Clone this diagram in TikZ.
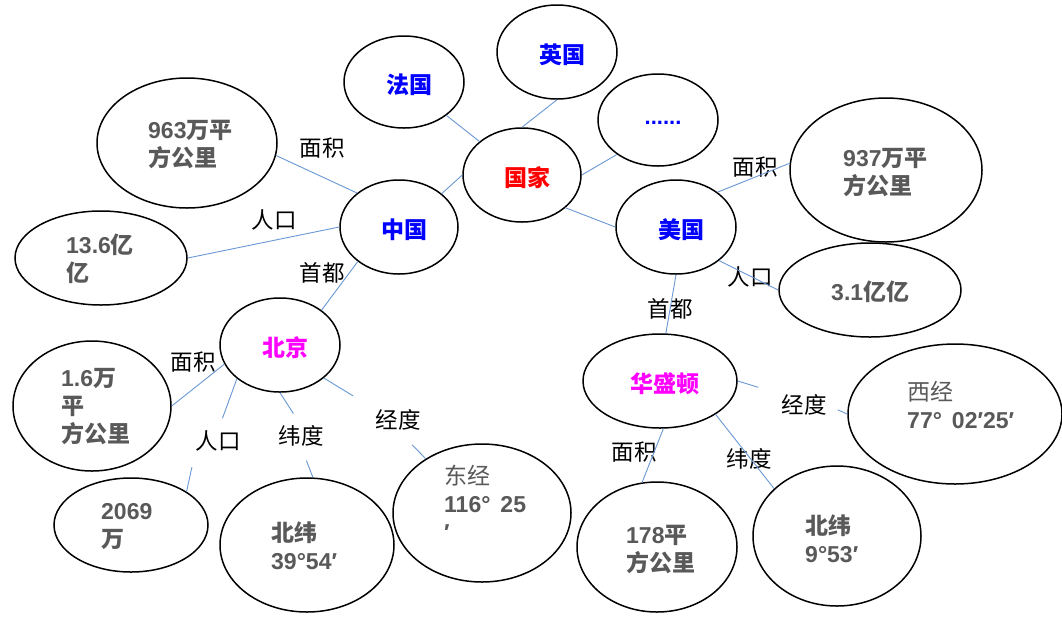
\documentclass[tikz,border=0pt]{standalone}
\usepackage{fontspec}
\usetikzlibrary{shapes.geometric}
\newfontfamily\cjk{Noto Sans CJK SC}
\newfontfamily\lat{Liberation Sans}
\newcommand\dg[1]{{\lat\bfseries #1}}
\definecolor{valgray}{HTML}{595959}
\definecolor{lineblue}{HTML}{6A98D4}
\definecolor{nblue}{HTML}{0000FF}
\definecolor{nred}{HTML}{FF0000}
\definecolor{nmag}{HTML}{FF00FF}
\begin{document}
\begin{tikzpicture}[x=1pt,y=-1pt,
  ell/.style={ellipse, draw=black, line width=1.5pt, inner sep=0pt},
  conn/.style={draw=lineblue, line width=0.9pt},
  lab/.style={font=\fontsize{22.5}{26}\selectfont\cjk, inner sep=0pt, text=black},
  cname/.style={font=\fontsize{23}{26}\selectfont\cjk\bfseries, inner sep=0pt, xshift=5pt, yshift=-3pt},
  val/.style={font=\fontsize{23}{28}\selectfont\cjk\bfseries, text=valgray, align=left, anchor=west, inner sep=0pt},
]
\useasboundingbox (0,0) rectangle (1062,641);
\fill[white] (0,0) rectangle (1062,641);

% main nodes
\node[ell, minimum width=118pt, minimum height=94pt, label={[cname, text=nred]center:国家}] (gj) at (522,175) {};
\node[ell, minimum width=120pt, minimum height=92pt, label={[cname, text=nblue]center:法国}] (fg) at (404,82) {};
\node[ell, minimum width=120pt, minimum height=94pt, label={[cname, text=nblue]center:英国}] (yg) at (557,52) {};
\node[ell, minimum width=120pt, minimum height=92pt, label={[cname, font=\fontsize{22}{26}\selectfont\lat\bfseries, text=nblue, yshift=0pt]center:......}] (dd) at (658,120) {};
\node[ell, minimum width=120pt, minimum height=94pt, label={[cname, text=nblue]center:美国}] (mg) at (676,227) {};
\node[ell, minimum width=118pt, minimum height=94pt, label={[cname, text=nblue]center:中国}] (zg) at (399,227) {};
\node[ell, minimum width=120pt, minimum height=94pt, label={[cname, text=nmag]center:北京}] (bj) at (280,345) {};
\node[ell, minimum width=154pt, minimum height=94pt, label={[cname, text=nmag]center:华盛顿}] (hsd) at (660,381) {};

% value ellipses
\node[ell, minimum width=180pt, minimum height=130pt] (v963) at (187,143) {};
\node[ell, minimum width=172pt, minimum height=94pt] (v136) at (101,258) {};
\node[ell, minimum width=158pt, minimum height=130pt] (v16) at (92,406) {};
\node[ell, minimum width=154pt, minimum height=94pt] (v2069) at (131,525) {};
\node[ell, minimum width=174pt, minimum height=134pt] (vbw) at (307,545) {};
\node[ell, minimum width=178pt, minimum height=138pt] (vdj) at (482,513) {};
\node[ell, minimum width=160pt, minimum height=130pt] (v178) at (657,547) {};
\node[ell, minimum width=168pt, minimum height=140pt] (vbw2) at (837,536) {};
\node[ell, minimum width=214pt, minimum height=140pt] (vxj) at (955,414) {};
\node[ell, minimum width=192pt, minimum height=144pt] (v937) at (886,170) {};
\node[ell, minimum width=182pt, minimum height=94pt] (v31) at (870,290) {};

% value texts
\node[val] (t963) at (148,144) {\dg{963}万平\\方公里};
\node[val] (t136) at (66,259) {\dg{13.6}亿\\亿};
\node[val] (t16) at (61,407) {\dg{1.6}万\\平\\方公里};
\node[val] (t2069) at (101,527) {\dg{2069}\\万};
\node[val] (tbw) at (271,546) {北纬\\\dg{39°54′}};
\node[val] (tdj) at (444,503) {{\mdseries 东经}\\\dg{116°\hspace{10pt}25}\\\dg{′}};
\node[val] (t178) at (626,549) {\dg{178}平\\方公里};
\node[val] (tbw2) at (805,539) {北纬\\\dg{9°53′}};
\node[val] (txj) at (907,405) {{\mdseries 西经}\\\dg{77°\hspace{10pt}02′25′}};
\node[val] (t937) at (843,172) {\dg{937}万平\\方公里};
\node[val] (t31) at (831,292) {\dg{3.1}亿亿};

% labels
\node[lab] (lzmj) at (322,148) {面积};
\node[lab] (lzrk) at (274,220) {人口};
\node[lab] (lzsd) at (322,273) {首都};
\node[lab] (lmmj) at (755,167) {面积};
\node[lab] (lmrk) at (750,277) {人口};
\node[lab] (lmsd) at (670,309) {首都};
\node[lab] (lbmj) at (193,362) {面积};
\node[lab] (lbrk) at (218,441) {人口};
\node[lab] (lbwd) at (301,436) {纬度};
\node[lab] (lbjd) at (398,420) {经度};
\node[lab] (lhmj) at (634,452) {面积};
\node[lab] (lhwd) at (749,459) {纬度};
\node[lab] (lwjd) at (804,405) {经度};

% connectors
\draw[conn] (gj) -- (fg);
\draw[conn] (gj.north) -- (yg.south);
\draw[conn] (gj.east) -- (dd.220);
\draw[conn] (gj.-37) -- (mg.west);
\draw[conn] (gj.west) -- (zg.38);
\draw[conn] (zg.141) -- (v963.-8);
\draw[conn] (zg.west) -- (v136.east);
\draw[conn] (zg.-140) -- (bj.40);
\draw[conn] (mg.40) -- (v937.176);
\draw[conn] (mg.-38) -- (v31.west);
\draw[conn] (mg.south) -- (hsd.83);
\draw[conn] (bj.199) -- (v16.east);
\draw[conn, shorten >=13pt] (bj.218) -- (lbrk.north);
\draw[conn, shorten <=16pt] (lbrk.south west) -- (v2069.31);
\draw[conn, shorten >=14pt] (bj.south) -- (lbwd.north);
\draw[conn, shorten <=15pt] (lbwd.south) -- (vbw.85);
\draw[conn, shorten >=26pt] (bj.-37) -- (lbjd.north west);
\draw[conn, shorten <=20pt] (lbjd.south) -- (vdj.136);
\draw[conn] (hsd.-86) -- (v178.103);
\draw[conn] (hsd.-31) -- (vbw2.143);
\draw[conn, shorten >=24pt] (hsd.east) -- (lwjd.north west);
\draw[conn, shorten <=12pt] (lwjd.east) -- (vxj.west);
\end{tikzpicture}
\end{document}
